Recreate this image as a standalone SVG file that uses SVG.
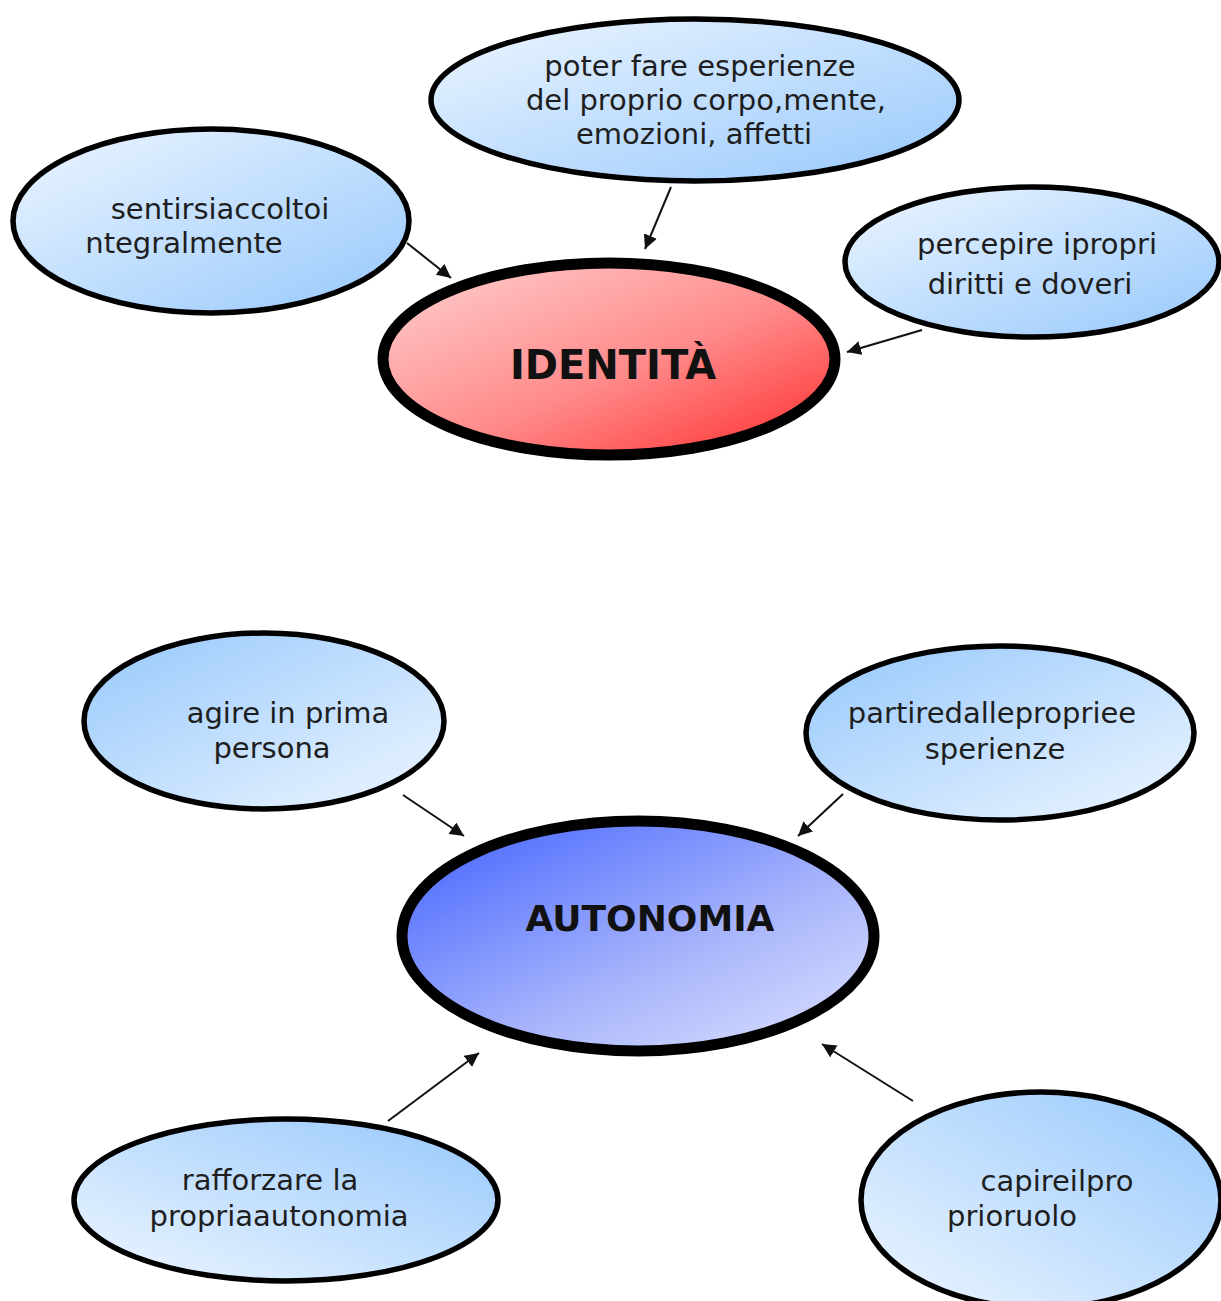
<svg xmlns="http://www.w3.org/2000/svg" width="1221" height="1301" viewBox="0 0 1221 1301">
  <style>
    .leaf { stroke: #000; stroke-width: 5.5; }
    .core { stroke: #000; stroke-width: 11; }
    .lbl { font-family: "DejaVu Sans", Verdana, sans-serif; font-size: 29px; fill: #1e1e1e; text-anchor: middle; }
    .title { font-family: "DejaVu Sans", Verdana, sans-serif; font-weight: bold; fill: #111; text-anchor: middle; }
    .edge { stroke: #111; stroke-width: 2; fill: none; marker-end: url(#head); }
  </style>
  <defs>
    <!-- light top-left to deeper blue bottom-right -->
    <linearGradient id="blueDown" x1="0" y1="0" x2="1" y2="1">
      <stop offset="0" stop-color="#eef6ff"/>
      <stop offset="1" stop-color="#96c8fc"/>
    </linearGradient>
    <!-- deeper blue top-left to light bottom-right -->
    <linearGradient id="blueUp" x1="0" y1="0" x2="1" y2="1">
      <stop offset="0" stop-color="#96c8fc"/>
      <stop offset="1" stop-color="#eef6ff"/>
    </linearGradient>
    <!-- light bottom-left to deeper blue top-right -->
    <linearGradient id="blueRise" x1="0" y1="1" x2="1" y2="0">
      <stop offset="0" stop-color="#eef6ff"/>
      <stop offset="1" stop-color="#96c8fc"/>
    </linearGradient>
    <linearGradient id="red" x1="0" y1="0" x2="1" y2="1">
      <stop offset="0" stop-color="#ffd2d2"/>
      <stop offset="0.55" stop-color="#ff8a8a"/>
      <stop offset="1" stop-color="#ff2a2a"/>
    </linearGradient>
    <linearGradient id="violet" x1="0" y1="0" x2="1" y2="1">
      <stop offset="0" stop-color="#3f60ff"/>
      <stop offset="0.6" stop-color="#aab6fb"/>
      <stop offset="1" stop-color="#dde4ff"/>
    </linearGradient>
    <marker id="head" viewBox="0 0 10 10" refX="10" refY="5" markerWidth="7" markerHeight="7" markerUnits="strokeWidth" orient="auto">
      <path d="M0,0 L10,5 L0,10 z" fill="#111"/>
    </marker>
  </defs>

  <!-- connectors -->
  <g id="connectors">
    <line class="edge" x1="407" y1="243" x2="451" y2="278"/>
    <line class="edge" x1="671" y1="187" x2="645" y2="249"/>
    <line class="edge" x1="922" y1="330" x2="847" y2="352"/>
    <line class="edge" x1="403" y1="795" x2="464" y2="836"/>
    <line class="edge" x1="843" y1="794" x2="798" y2="836"/>
    <line class="edge" x1="388" y1="1121" x2="479" y2="1053"/>
    <line class="edge" x1="913" y1="1101" x2="822" y2="1044"/>
  </g>

  <!-- upper map: IDENTITÀ -->
  <g id="node-esperienze">
    <ellipse class="leaf" cx="695" cy="100" rx="264" ry="81" fill="url(#blueDown)"/>
    <text class="lbl" x="700" y="76">poter fare esperienze</text>
    <text class="lbl" x="706" y="110">del proprio corpo,mente,</text>
    <text class="lbl" x="694" y="144">emozioni, affetti</text>
  </g>
  <g id="node-accolti">
    <ellipse class="leaf" cx="211" cy="221" rx="198" ry="92" fill="url(#blueDown)"/>
    <text class="lbl" x="220" y="219">sentirsiaccoltoi</text>
    <text class="lbl" x="184" y="253">ntegralmente</text>
  </g>
  <g id="node-diritti">
    <ellipse class="leaf" cx="1032" cy="262" rx="187" ry="75" fill="url(#blueDown)"/>
    <text class="lbl" x="1037" y="254">percepire ipropri</text>
    <text class="lbl" x="1030" y="294">diritti e doveri</text>
  </g>
  <g id="node-identita">
    <ellipse class="core" cx="609" cy="359" rx="226" ry="96" fill="url(#red)"/>
    <text class="title" x="613" y="379" font-size="40">IDENTITÀ</text>
  </g>

  <!-- lower map: AUTONOMIA -->
  <g id="node-agire">
    <ellipse class="leaf" cx="264" cy="721" rx="180" ry="88" fill="url(#blueUp)"/>
    <text class="lbl" x="288" y="723">agire in prima</text>
    <text class="lbl" x="272" y="758">persona</text>
  </g>
  <g id="node-partire">
    <ellipse class="leaf" cx="1000" cy="733" rx="194" ry="87" fill="url(#blueUp)"/>
    <text class="lbl" x="992" y="723">partiredallepropriee</text>
    <text class="lbl" x="995" y="759">sperienze</text>
  </g>
  <g id="node-autonomia">
    <ellipse class="core" cx="638" cy="936" rx="236" ry="115" fill="url(#violet)"/>
    <text class="title" x="650" y="931" font-size="36">AUTONOMIA</text>
  </g>
  <g id="node-rafforzare">
    <ellipse class="leaf" cx="286" cy="1200" rx="212" ry="81" fill="url(#blueRise)"/>
    <text class="lbl" x="270" y="1190">rafforzare la</text>
    <text class="lbl" x="279" y="1226">propriaautonomia</text>
  </g>
  <g id="node-ruolo">
    <ellipse class="leaf" cx="1041" cy="1200" rx="180" ry="108" fill="url(#blueRise)"/>
    <text class="lbl" x="1057" y="1191">capireilpro</text>
    <text class="lbl" x="1012" y="1226">prioruolo</text>
  </g>
</svg>
